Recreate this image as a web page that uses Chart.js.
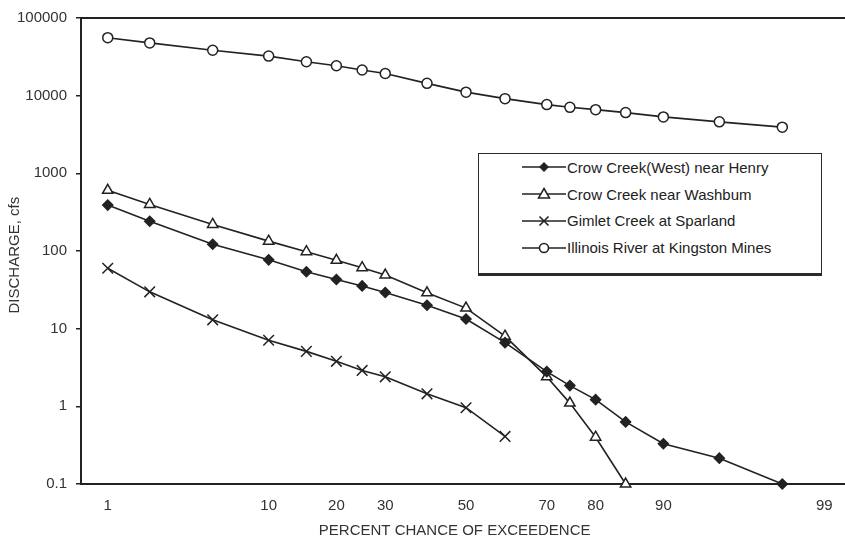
<!DOCTYPE html>
<html>
<head>
<meta charset="utf-8">
<script src="https://cdn.jsdelivr.net/npm/chart.js@4/dist/chart.umd.min.js"></script>
<style>
  html, body { margin: 0; padding: 0; background: #fff; overflow: hidden; }
  #wrap { position: relative; width: 845px; height: 540px; }
  #legend {
    position: absolute; left: 478px; top: 153px; width: 344px; height: 123px;
    box-sizing: border-box; border: 1px solid #2a2a2a; border-bottom: 3px solid #2a2a2a;
    background: #fff; font-family: 'Liberation Sans', Arial, sans-serif; font-size: 15px; color: #222;
  }
  .row { height: 26.8px; display: flex; align-items: center; }
  .row svg { margin-left: 43px; margin-right: 1px; flex: none; }
</style>
</head>
<body>
<div id="wrap">
  <canvas id="c" width="845" height="540"></canvas>
  <div id="legend"></div>
</div>
<script>
// ---- data (percent chance of exceedence, discharge in cfs) ----
const henryPct = [1, 2, 5, 10, 15, 20, 25, 30, 40, 50, 60, 70, 75, 80, 85, 90, 95, 98];
const henryCfs = [390, 242, 122, 77, 54, 43, 35.5, 29.2, 20, 13.3, 6.6, 2.8, 1.85, 1.22, 0.63, 0.33, 0.215, 0.1];

const washburnPct = [1, 2, 5, 10, 15, 20, 25, 30, 40, 50, 60, 70, 75, 80, 85];
const washburnCfs = [605, 397, 220, 134, 98, 76, 61, 49, 29, 18.4, 8, 2.4, 1.1, 0.4, 0.1];

const gimletPct = [1, 2, 5, 10, 15, 20, 25, 30, 40, 50, 60];
const gimletCfs = [60, 29.8, 13, 7.1, 5.1, 3.8, 2.9, 2.4, 1.45, 0.96, 0.41];

const illinoisPct = [1, 2, 5, 10, 15, 20, 25, 30, 40, 50, 60, 70, 75, 80, 85, 90, 95, 98];
const illinoisCfs = [55800, 47800, 38500, 32300, 27300, 24300, 21400, 19300, 14400, 11100, 9160, 7670, 7080, 6610, 6050, 5330, 4600, 3930];

const seriesNames = [
  'Crow Creek(West) near Henry',
  'Crow Creek near Washbum',
  'Gimlet Creek at Sparland',
  'Illinois River at Kingston Mines'
];

const xTickValues = [1, 10, 20, 30, 50, 70, 80, 90, 99];
const xTickLabels = ['1', '10', '20', '30', '50', '70', '80', '90', '99'];
const yTickValues = [0.1, 1, 10, 100, 1000, 10000, 100000];
const yTickLabels = ['0.1', '1', '10', '100', '1000', '10000', '100000'];

// ---- inverse normal CDF (probability-paper axis transform) ----
function probit(p) {
  const a = [-3.969683028665376e+01, 2.209460984245205e+02, -2.759285104469687e+02, 1.383577518672690e+02, -3.066479806614716e+01, 2.506628277459239e+00];
  const b = [-5.447609879822406e+01, 1.615858368580409e+02, -1.556989798598866e+02, 6.680131188771972e+01, -1.328068155288572e+01];
  const c = [-7.784894002430293e-03, -3.223964580411365e-01, -2.400758277161838e+00, -2.549732539343734e+00, 4.374664141464968e+00, 2.938163982698783e+00];
  const d = [7.784695709041462e-03, 3.224671290700398e-01, 2.445134137142996e+00, 3.754408661907416e+00];
  const pl = 0.02425, ph = 1 - pl;
  let q, r;
  if (p < pl) {
    q = Math.sqrt(-2 * Math.log(p));
    return (((((c[0]*q+c[1])*q+c[2])*q+c[3])*q+c[4])*q+c[5]) / ((((d[0]*q+d[1])*q+d[2])*q+d[3])*q+1);
  }
  if (p <= ph) {
    q = p - 0.5; r = q * q;
    return (((((a[0]*r+a[1])*r+a[2])*r+a[3])*r+a[4])*r+a[5])*q / (((((b[0]*r+b[1])*r+b[2])*r+b[3])*r+b[4])*r+1);
  }
  q = Math.sqrt(-2 * Math.log(1 - p));
  return -(((((c[0]*q+c[1])*q+c[2])*q+c[3])*q+c[4])*q+c[5]) / ((((d[0]*q+d[1])*q+d[2])*q+d[3])*q+1);
}

class ProbitScale extends Chart.Scale {
  determineDataLimits() {
    this.min = this.options.min;
    this.max = this.options.max;
  }
  buildTicks() {
    return xTickValues.map(v => ({ value: v }));
  }
  configure() {
    super.configure();
    this._zStart = probit(this.min / 100);
    this._zRange = probit(this.max / 100) - this._zStart;
  }
  getPixelForValue(value) {
    return this.getPixelForDecimal((probit(value / 100) - this._zStart) / this._zRange);
  }
  getValueForPixel(pixel) {
    const target = this._zStart + this.getDecimalForPixel(pixel) * this._zRange;
    let lo = 0.0001, hi = 99.9999;
    for (let i = 0; i < 50; i++) {
      const mid = (lo + hi) / 2;
      if (probit(mid / 100) < target) lo = mid; else hi = mid;
    }
    return (lo + hi) / 2;
  }
  getLabelForValue(v) { return String(v); }
}
ProbitScale.id = 'probit';
ProbitScale.defaults = {};
Chart.register(ProbitScale);

const toPoints = (xs, ys) => xs.map((x, i) => ({ x: x, y: ys[i] }));

const INK = '#222';
const FONT = "'Liberation Sans', Arial, sans-serif";

const common = {
  borderColor: INK,
  borderWidth: 1.6,
  pointBorderColor: INK,
  pointBorderWidth: 1.5,
  tension: 0,
  clip: false
};

const datasets = [
  Object.assign({}, common, {
    label: seriesNames[0], data: toPoints(henryPct, henryCfs),
    pointStyle: 'rectRot', pointRadius: 5, pointBackgroundColor: INK
  }),
  Object.assign({}, common, {
    label: seriesNames[1], data: toPoints(washburnPct, washburnCfs),
    pointStyle: 'triangle', pointRadius: 6, pointBackgroundColor: '#fff'
  }),
  Object.assign({}, common, {
    label: seriesNames[2], data: toPoints(gimletPct, gimletCfs),
    pointStyle: 'crossRot', pointRadius: 7.5, pointBackgroundColor: INK
  }),
  Object.assign({}, common, {
    label: seriesNames[3], data: toPoints(illinoisPct, illinoisCfs),
    pointStyle: 'circle', pointRadius: 5, pointBackgroundColor: '#fff'
  })
];

const frameTop = {
  id: 'frameTop',
  afterDraw(chart) {
    const { ctx, chartArea: a } = chart;
    ctx.save();
    ctx.strokeStyle = INK;
    ctx.lineWidth = 2;
    ctx.beginPath();
    ctx.moveTo(a.left - 1, a.top);
    ctx.lineTo(a.right, a.top);
    ctx.stroke();
    ctx.restore();
  }
};

new Chart(document.getElementById('c'), {
  type: 'line',
  data: { datasets: datasets },
  plugins: [frameTop],
  options: {
    responsive: false,
    animation: false,
    layout: { autoPadding: false, padding: { top: 16, right: 0, bottom: 0, left: 0 } },
    plugins: { legend: { display: false }, tooltip: { enabled: false } },
    scales: {
      x: {
        type: 'probit',
        position: 'bottom',
        min: 0.621,
        max: 99.307,
        afterFit(scale) { scale.height = 56; scale.paddingLeft = 0; scale.paddingRight = 0; },
        grid: { display: false },
        border: { display: true, color: INK, width: 2 },
        ticks: {
          padding: 5,
          color: '#333',
          font: { family: FONT, size: 15 },
          maxRotation: 0,
          autoSkip: false,
          callback: (v, i) => xTickLabels[i]
        },
        title: {
          display: true,
          text: 'PERCENT CHANCE OF EXCEEDENCE    ',
          color: '#333',
          font: { family: FONT, size: 15 },
          padding: { top: 0, bottom: 0 }
        }
      },
      y: {
        type: 'logarithmic',
        position: 'left',
        min: 0.1,
        max: 100000,
        afterFit(scale) { scale.width = 81; },
        afterBuildTicks(scale) { scale.ticks = yTickValues.map(v => ({ value: v })); },
        grid: { display: true, drawOnChartArea: false, drawTicks: true, tickLength: 5, color: INK, lineWidth: 1.5 },
        border: { display: true, color: INK, width: 2 },
        ticks: {
          padding: 9,
          color: '#333',
          font: { family: FONT, size: 15 },
          autoSkip: false,
          callback: (v, i) => yTickLabels[i]
        },
        title: {
          display: true,
          text: 'DISCHARGE, cfs  ',
          color: '#333',
          font: { family: FONT, size: 15 },
          padding: { top: 6, bottom: 0 }
        }
      }
    }
  }
});

// ---- legend (line + marker glyphs, real text) ----
const glyphs = [
  '<path d="M22 2 L27 7 L22 12 L17 7 Z" fill="#222"/>',
  '<polygon points="22,1.5 27.5,11 16.5,11" fill="#fff" stroke="#222" stroke-width="1.5"/>',
  '<path d="M17.5 2.5 L26.5 11.5 M26.5 2.5 L17.5 11.5" stroke="#222" stroke-width="1.6"/>',
  '<circle cx="22" cy="7" r="4.5" fill="#fff" stroke="#222" stroke-width="1.6"/>'
];
const legend = document.getElementById('legend');
seriesNames.forEach((name, i) => {
  const row = document.createElement('div');
  row.className = 'row';
  row.innerHTML = '<svg width="44" height="14" viewBox="0 0 44 14"><line x1="0" y1="7" x2="44" y2="7" stroke="#222" stroke-width="1.6"/>' +
    glyphs[i] + '</svg>';
  const span = document.createElement('span');
  span.textContent = name;
  row.appendChild(span);
  legend.appendChild(row);
});
</script>
</body>
</html>
